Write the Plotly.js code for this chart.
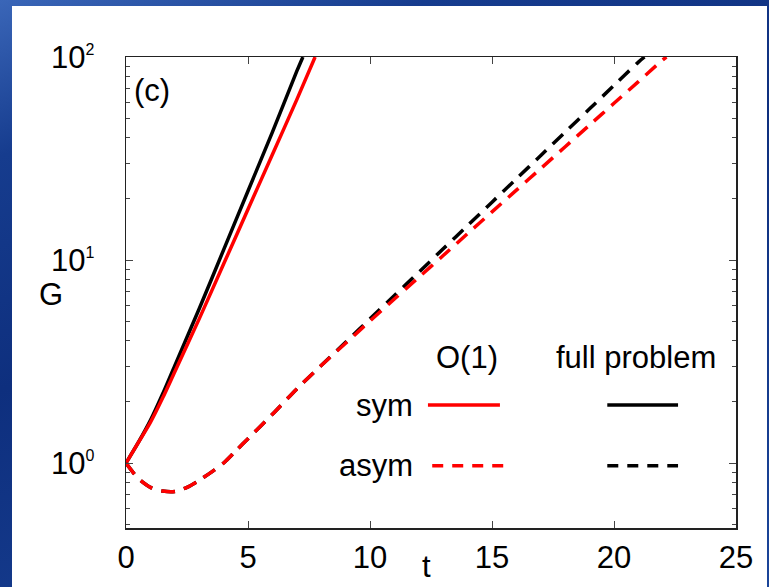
<!DOCTYPE html>
<html>
<head>
<meta charset="utf-8">
<script src="https://cdn.plot.ly/plotly-3.0.1.min.js"></script>
<style>
  html, body { margin: 0; padding: 0; width: 769px; height: 587px; overflow: hidden; }
  body { background: linear-gradient(160deg, #3a66b8 0%, #163c8e 18%, #0e2f7e 45%, #1b4599 100%); }
  #chart { position: absolute; left: 12px; top: 6px; width: 755px; height: 581px; }
</style>
</head>
<body>
<div id="chart"></div>
<script>
// ---- data ----
const tFullSym = [0, 0.5, 1, 1.5, 2, 3, 4, 5, 6, 7, 7.25];
const gFullSym = [1, 1.259, 1.622, 2.188, 3.020, 5.754, 11.22, 21.88, 42.66, 85.11, 100];

const tO1Sym = [0, 0.5, 1, 1.5, 2, 3, 4, 5, 6, 7, 7.75];
const gO1Sym = [1, 1.259, 1.585, 2.089, 2.818, 5.129, 9.550, 17.78, 33.11, 61.66, 100];

const tFullAsym = [0, 0.25, 0.5, 1, 1.5, 2, 2.5, 3, 3.5, 4, 4.5, 5, 6, 7, 8, 9, 10, 11, 12, 13, 14, 15, 16, 17, 18, 19, 20, 21, 21.25];
const gFullAsym = [1, 0.912, 0.841, 0.759, 0.728, 0.724, 0.759, 0.822, 0.902, 1.0, 1.148, 1.318, 1.738, 2.317, 3.020,
                   3.936, 5.129, 6.683, 8.710, 11.35, 14.79, 19.28, 25.12, 32.73, 42.66, 55.59, 72.44, 94.41, 100];

const tO1Asym = [0, 0.25, 0.5, 1, 1.5, 2, 2.5, 3, 3.5, 4, 4.5, 5, 6, 7, 8, 9, 10, 11, 12, 13, 14, 15, 16, 17, 18, 19, 20, 21, 22, 22.15];
const gO1Asym = [1, 0.912, 0.841, 0.759, 0.728, 0.724, 0.759, 0.822, 0.902, 1.0, 1.148, 1.318, 1.738, 2.317, 3.020,
                 3.890, 5.012, 6.427, 8.222, 10.52, 13.49, 17.26, 22.08, 28.25, 36.14, 46.24, 59.16, 75.68, 96.83, 100];

const xTickVals = [0, 5, 10, 15, 20, 25];
const yTickVals = [1, 10, 100];
const yExponents = ['0', '1', '2'];
const yMinorVals = [0.5, 0.6, 0.7, 0.8, 0.9, 2, 3, 4, 5, 6, 7, 8, 9, 20, 30, 40, 50, 60, 70, 80, 90];

// ---- styles ----
const FONT = 'Liberation Sans, Arial, Helvetica, sans-serif';
const FS = 31;
const RED = '#ff0000';
const BLACK = '#000000';
const DASH = '14px,9px';
const LW = 3.5;

const yTickText = yExponents.map(e => '10<sup><span style="font-size:16px">' + e + '</span></sup>');

const traces = [
  {x: tFullSym, y: gFullSym, mode: 'lines', line: {color: BLACK, width: LW, shape: 'spline', smoothing: 0.8}, showlegend: false},
  {x: tO1Sym, y: gO1Sym, mode: 'lines', line: {color: RED, width: LW, shape: 'spline', smoothing: 0.8}, showlegend: false},
  {x: tFullAsym, y: gFullAsym, mode: 'lines', line: {color: BLACK, width: LW, dash: DASH, shape: 'spline', smoothing: 0.8}, showlegend: false},
  {x: tO1Asym, y: gO1Asym, mode: 'lines', line: {color: RED, width: LW, dash: DASH, shape: 'spline', smoothing: 0.8}, showlegend: false}
];

const layout = {
  width: 755, height: 581,
  margin: {l: 114, r: 31, t: 51, b: 59},
  paper_bgcolor: '#ffffff',
  plot_bgcolor: '#ffffff',
  font: {family: FONT, size: FS, color: '#000'},
  xaxis: {
    range: [0, 25], tickvals: xTickVals,
    showgrid: false, zeroline: false,
    showline: true, linecolor: '#222', linewidth: 1.5, mirror: 'ticks',
    ticks: 'inside', ticklen: 7, tickwidth: 1, tickcolor: '#444',
    tickfont: {family: FONT, size: FS}, ticklabelstandoff: 1
  },
  yaxis: {
    type: 'log', range: [-0.32, 2],
    tickvals: yTickVals, ticktext: yTickText,
    showgrid: false, zeroline: false,
    showline: true, linecolor: '#222', linewidth: 1.5, mirror: 'ticks',
    ticks: 'inside', ticklen: 7, tickwidth: 1, tickcolor: '#444',
    tickfont: {family: FONT, size: FS}, ticklabelstandoff: 24,
    minor: {tickmode: 'array', tickvals: yMinorVals, ticks: 'inside', ticklen: 4, tickcolor: '#444', showgrid: false}
  },
  annotations: [
    {text: '(c)', xref: 'paper', yref: 'paper', x: 0.0426, y: 0.928, xanchor: 'center', yanchor: 'middle', showarrow: false, font: {size: FS}},
    {text: 'G', xref: 'paper', yref: 'paper', x: -0.123, y: 0.495, xanchor: 'center', yanchor: 'middle', showarrow: false, font: {size: FS}},
    {text: 't', xref: 'paper', yref: 'paper', x: 0.493, y: -0.081, xanchor: 'center', yanchor: 'middle', showarrow: false, font: {size: FS}},
    {text: 'O(1)', xref: 'paper', yref: 'paper', x: 0.559, y: 0.363, xanchor: 'center', yanchor: 'middle', showarrow: false, font: {size: FS}},
    {text: 'full problem', xref: 'paper', yref: 'paper', x: 0.836, y: 0.363, xanchor: 'center', yanchor: 'middle', showarrow: false, font: {size: FS}},
    {text: 'sym', xref: 'paper', yref: 'paper', x: 0.474, y: 0.261, xanchor: 'right', yanchor: 'middle', showarrow: false, font: {size: FS}},
    {text: 'asym', xref: 'paper', yref: 'paper', x: 0.474, y: 0.132, xanchor: 'right', yanchor: 'middle', showarrow: false, font: {size: FS}}
  ],
  shapes: [
    {type: 'line', xref: 'paper', yref: 'paper', x0: 0.495, x1: 0.613, y0: 0.261, y1: 0.261, line: {color: RED, width: LW}},
    {type: 'line', xref: 'paper', yref: 'paper', x0: 0.789, x1: 0.905, y0: 0.261, y1: 0.261, line: {color: BLACK, width: LW}},
    {type: 'line', xref: 'paper', yref: 'paper', x0: 0.502, x1: 0.621, y0: 0.132, y1: 0.132, line: {color: RED, width: LW, dash: '11px,9px'}},
    {type: 'line', xref: 'paper', yref: 'paper', x0: 0.789, x1: 0.905, y0: 0.132, y1: 0.132, line: {color: BLACK, width: LW, dash: '11px,9px'}}
  ]
};

Plotly.newPlot('chart', traces, layout, {displayModeBar: false, staticPlot: true});
</script>
</body>
</html>
